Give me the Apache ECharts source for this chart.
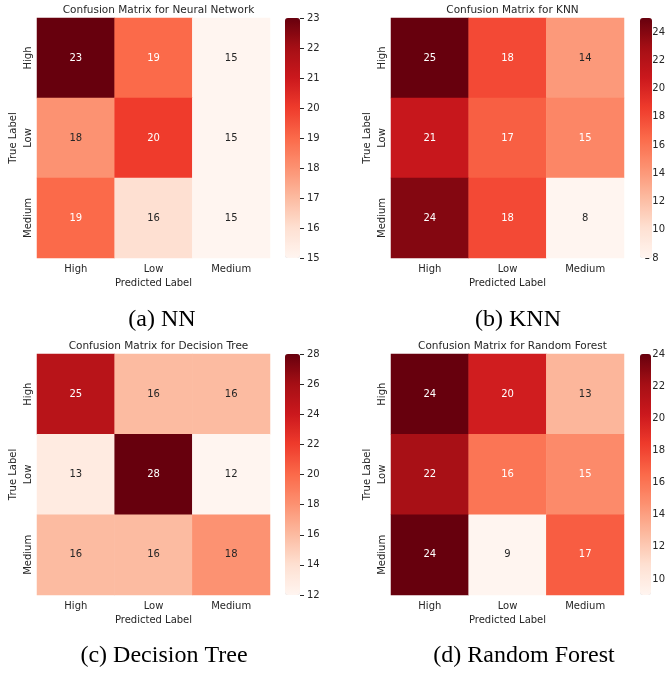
<!DOCTYPE html>
<html>
<head>
    <meta charset="UTF-8">
    <title>Confusion matrices</title>
    <script src="https://cdn.jsdelivr.net/npm/echarts@6/dist/echarts.min.js"></script>
    <style>
        html, body { margin: 0; padding: 0; background: #fff; }
        #main { width: 668px; height: 673px; }
    </style>
</head>
<body>
<div id="main"></div>
<script type="text/javascript">
    var labels = ['High', 'Low', 'Medium'];

    // rows = true label, cols = predicted label
    var nnMatrix = [[23, 19, 15], [18, 20, 15], [19, 16, 15]];
    var knnMatrix = [[25, 18, 14], [21, 17, 15], [24, 18, 8]];
    var dtMatrix = [[25, 16, 16], [13, 28, 12], [16, 16, 18]];
    var rfMatrix = [[24, 20, 13], [22, 16, 15], [24, 9, 17]];

    // colorbar ticks (first, last, step)
    var nnTicks = [15, 23, 1];
    var knnTicks = [8, 24, 2];
    var dtTicks = [12, 28, 2];
    var rfTicks = [10, 24, 2];

    var titles = ['Confusion Matrix for Neural Network', 'Confusion Matrix for KNN',
        'Confusion Matrix for Decision Tree', 'Confusion Matrix for Random Forest'];
    var captions = ['(a) NN', '(b) KNN', '(c) Decision Tree', '(d) Random Forest'];

    var reds = ['#fff5f0', '#fee0d2', '#fcbba1', '#fc9272', '#fb6a4a', '#ef3b2c', '#cb181d', '#a50f15', '#67000d'];
    var textDark = '#262626';
    var font = 'DejaVu Sans';

    // panel boxes: heatmap area + colorbar
    var panels = [
        {m: nnMatrix, ticks: nnTicks, left: 37, top: 18, w: 233, h: 240, cbLeft: 285, cbW: 15, cx: 162, capY: 320},
        {m: knnMatrix, ticks: knnTicks, left: 391, top: 18, w: 233, h: 240, cbLeft: 640, cbW: 12, cx: 518, capY: 320},
        {m: dtMatrix, ticks: dtTicks, left: 37, top: 354, w: 233, h: 241, cbLeft: 285, cbW: 15, cx: 164, capY: 656},
        {m: rfMatrix, ticks: rfTicks, left: 391, top: 354, w: 233, h: 241, cbLeft: 640, cbW: 11, cx: 524, capY: 656}
    ];

    var grids = [], xAxes = [], yAxes = [], series = [], visualMaps = [], title = [], graphic = [];

    panels.forEach(function (p, i) {
        var flat = [].concat(p.m[0], p.m[1], p.m[2]);
        var vmin = Math.min.apply(null, flat);
        var vmax = Math.max.apply(null, flat);

        var data = [];
        for (var r = 0; r < 3; r++) {
            for (var c = 0; c < 3; c++) {
                var v = p.m[r][c];
                var t = (v - vmin) / (vmax - vmin);
                data.push({
                    value: [c, r, v],
                    label: {color: t < 0.39 ? textDark : '#ffffff'}
                });
            }
        }

        // heatmap grid
        grids.push({left: p.left, top: p.top, width: p.w, height: p.h});
        xAxes.push({
            type: 'category', data: labels, gridIndex: 2 * i,
            axisLine: {show: false}, axisTick: {show: false},
            axisLabel: {fontFamily: font, fontSize: 10, color: textDark, margin: 6},
            name: 'Predicted Label', nameLocation: 'middle', nameGap: 20,
            nameTextStyle: {fontFamily: font, fontSize: 10, color: textDark}
        });
        yAxes.push({
            type: 'category', data: labels, inverse: true, gridIndex: 2 * i,
            axisLine: {show: false}, axisTick: {show: false},
            axisLabel: {fontFamily: font, fontSize: 10, color: textDark, rotate: 90, margin: 4},
            name: 'True Label', nameLocation: 'middle', nameGap: 19,
            nameTextStyle: {fontFamily: font, fontSize: 10, color: textDark}
        });

        // colorbar tick axis: grid spans only the first..last tick part of the bar
        var t0 = p.ticks[0], t1 = p.ticks[1];
        var span = vmax - vmin;
        grids.push({
            left: p.cbLeft, width: p.cbW,
            top: p.top + p.h * (vmax - t1) / span,
            height: p.h * (t1 - t0) / span
        });
        xAxes.push({type: 'value', gridIndex: 2 * i + 1, show: false});
        yAxes.push({
            type: 'value', gridIndex: 2 * i + 1, position: 'right',
            min: t0, max: t1, interval: p.ticks[2],
            splitLine: {show: false},
            axisLine: {show: false, onZero: false},
            axisTick: {show: true, length: 4, lineStyle: {color: textDark, width: 1}},
            axisLabel: {fontFamily: font, fontSize: 10, color: textDark, margin: 7}
        });

        series.push({
            type: 'heatmap',
            xAxisIndex: 2 * i, yAxisIndex: 2 * i,
            data: data,
            label: {show: true, fontFamily: font, fontSize: 10},
            itemStyle: {borderWidth: 0},
            emphasis: {disabled: true}
        });

        visualMaps.push({
            type: 'continuous',
            seriesIndex: i, dimension: 2,
            min: vmin, max: vmax,
            calculable: false, hoverLink: false,
            orient: 'vertical',
            left: p.cbLeft, top: p.top, padding: 0,
            itemWidth: p.cbW, itemHeight: p.h,
            text: null, showLabel: false,
            inRange: {color: reds}
        });

        title.push({
            text: titles[i],
            left: p.left + p.w / 2, top: p.top - 18, textAlign: 'center',
            textStyle: {fontFamily: font, fontSize: 10.5, fontWeight: 'normal', color: textDark}
        });

        graphic.push({
            type: 'text', x: p.cx, y: p.capY,
            style: {
                text: captions[i], fill: '#000',
                font: '24px "Liberation Serif", serif',
                textAlign: 'center', textVerticalAlign: 'middle'
            }
        });
    });

    var chart = echarts.init(document.getElementById('main'));
    chart.setOption({
        animation: false,
        title: title,
        grid: grids,
        xAxis: xAxes,
        yAxis: yAxes,
        visualMap: visualMaps,
        series: series,
        graphic: graphic
    });
</script>
</body>
</html>
